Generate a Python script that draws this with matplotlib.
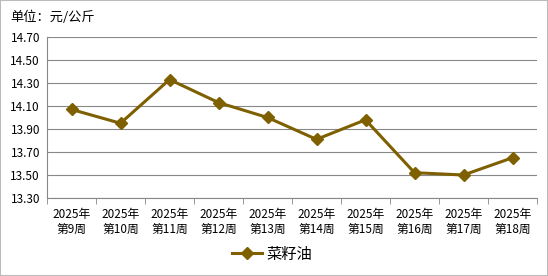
import numpy as np
import matplotlib.pyplot as plt
from matplotlib.patches import Rectangle

plt.rcParams['font.family'] = ['Noto Sans CJK SC', 'DejaVu Sans']

weeks = [f"2025年\n第{w}周" for w in range(9, 19)]
prices = [14.07, 13.95, 14.33, 14.13, 14.00, 13.81, 13.98, 13.52, 13.50, 13.65]
yticks = [13.30, 13.50, 13.70, 13.90, 14.10, 14.30, 14.50, 14.70]

line_color = "#7f6000"

fig = plt.figure(figsize=(5.48, 2.76), dpi=100)
ax = fig.add_axes([47 / 548, 1 - 198 / 276, 490 / 548, 161 / 276])

x = np.arange(len(weeks))
ax.plot(x, prices, color=line_color, lw=2.2, marker="D", ms=6,
        markeredgecolor=line_color, label="菜籽油", zorder=3)

ax.set_xlim(-0.5, len(weeks) - 0.5)
ax.set_ylim(13.30, 14.70)
ax.set_yticks(yticks)
ax.set_yticklabels([f"{v:.2f}" for v in yticks], fontsize=8.5)
ax.yaxis.grid(True, color="#888888", lw=0.8)
ax.set_axisbelow(True)
ax.tick_params(axis="y", length=0, pad=5)

ax.set_xticks(x)
ax.set_xticklabels(weeks, fontsize=8.5, linespacing=1.25)
ax.set_xticks(np.arange(len(weeks) + 1) - 0.5, minor=True)
ax.tick_params(axis="x", which="major", length=0, pad=7)
ax.tick_params(axis="x", which="minor", length=4, color="#888888")

for side in ["top", "right"]:
    ax.spines[side].set_visible(False)
for side in ["left", "bottom"]:
    ax.spines[side].set_color("#888888")

fig.text(10 / 548, 1 - 17 / 276, "单位：元/公斤", fontsize=9.5, va="center")

fig.legend(loc="center", bbox_to_anchor=(272 / 548, 1 - 254 / 276), frameon=False,
           fontsize=11, handlelength=2.0, handletextpad=0.3)

fig.patches.append(Rectangle((0, 0), 1, 1, transform=fig.transFigure, fill=False,
                             edgecolor="#bbbbbb", lw=1.5))

fig.savefig("out.png", dpi=100)
